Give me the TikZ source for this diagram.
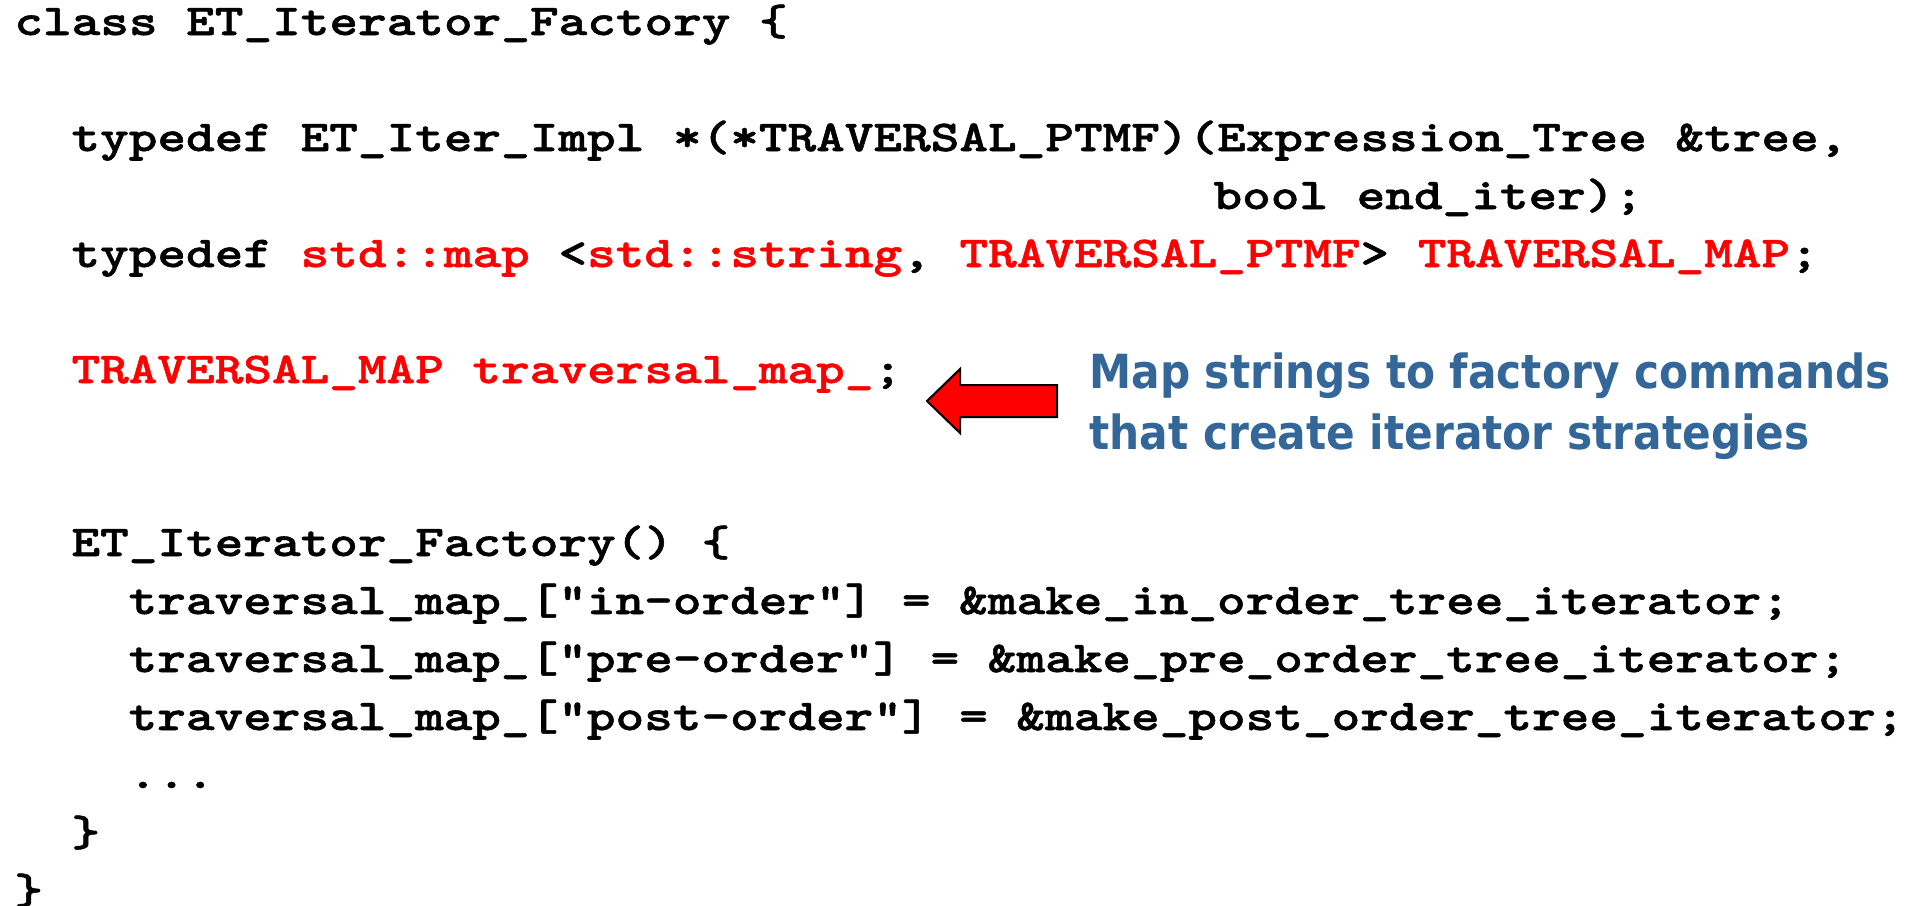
\documentclass[tikz,border=0pt]{standalone}
\usepackage{fontspec}
\newfontfamily\codefont{lmmonolt10-bold.otf}[FakeStretch=1.24, FakeBold=1.2]
\newfontfamily\notefont{DejaVu Sans Condensed}
\definecolor{codered}{RGB}{255,0,0}
\definecolor{noteblue}{RGB}{51,102,153}
\usetikzlibrary{positioning}

\newcommand{\rd}[1]{\textcolor{codered}{#1}}

\begin{document}
\begin{tikzpicture}[
  x=0.5pt, y=-0.5pt,
  code/.style={anchor=base west, inner sep=0pt,
               font=\codefont\fontsize{22}{29}\selectfont\frenchspacing},
  note/.style={anchor=base west, inner sep=0pt, text=noteblue,
               font=\notefont\bfseries\fontsize{23.5}{30}\selectfont},
  pointer/.style={draw=black, line width=1pt, fill=codered, line join=miter}
]
\useasboundingbox (0,0) rectangle (1911,905);

% class header
\node[code] (l1) at (14,35) {class ET\_Iterator\_Factory \{};
\node[code] (l2) at (71.1,151) {typedef ET\_Iter\_Impl *(*TRAVERSAL\_PTMF)(Expression\_Tree \&tree,};
\node[code] (l3) at (1213.1,209) {bool end\_iter);};
\node[code] (l4) at (71.1,267) {typedef \rd{std::map} <\rd{std::string}, \rd{TRAVERSAL\_PTMF}> \rd{TRAVERSAL\_MAP};};
\node[code] (l5) at (71.1,383) {\rd{TRAVERSAL\_MAP traversal\_map\_};};

% constructor
\node[code] (l6) at (71.1,556) {ET\_Iterator\_Factory() \{};
\node[code] (l7) at (128.2,614) {traversal\_map\_["in-order"] = \&make\_in\_order\_tree\_iterator;};
\node[code] (l8) at (128.2,672) {traversal\_map\_["pre-order"] = \&make\_pre\_order\_tree\_iterator;};
\node[code] (l9) at (128.2,730) {traversal\_map\_["post-order"] = \&make\_post\_order\_tree\_iterator;};
\node[code] (l10) at (128.2,788) {...};
\node[code] (l11) at (71.1,846) {\}};
\node[code] (l12) at (14,904) {\}};

% note and arrow
\node[note] (n1) at (1089,388) {Map strings to factory commands};
\node[note] (n2) at (1089,449) {that create iterator strategies};
\draw[pointer] (1057,385) -- (960,385) -- (960,369) -- (927,401)
  -- (960,433) -- (960,417) -- (1057,417) -- cycle;
\end{tikzpicture}
\end{document}
